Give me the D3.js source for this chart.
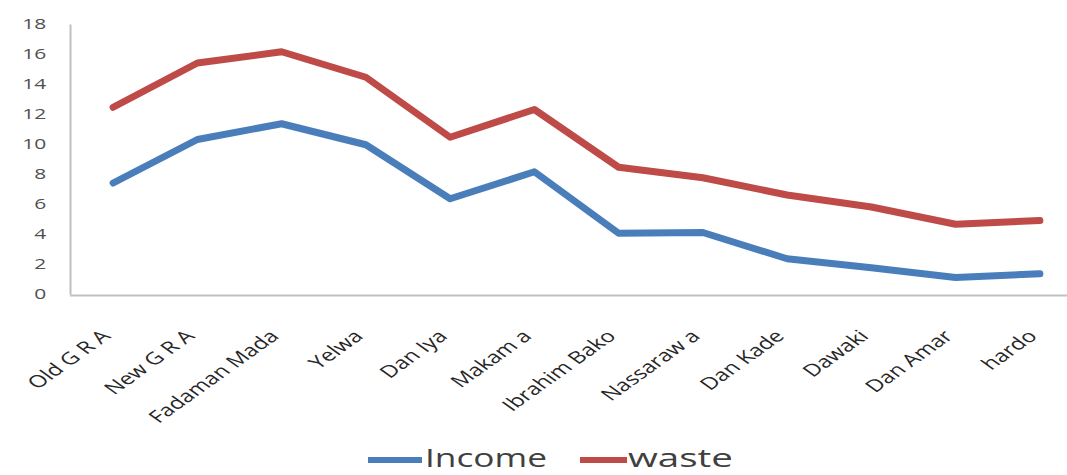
<!DOCTYPE html>
<html>
<head>
<meta charset="utf-8">
<script src="https://cdn.jsdelivr.net/npm/d3@7"></script>
<style>
  body { margin: 0; background: #fff; }
  text { font-family: "Open Sans", sans-serif; }
</style>
</head>
<body>
<div id="chart"></div>
<script>
const categories = ["Old G R A", "New G R A", "Fadaman Mada", "Yelwa", "Dan Iya", "Makam a",
  "Ibrahim Bako", "Nassaraw a", "Dan Kade", "Dawaki", "Dan Amar", "hardo"];
const income = [7.4, 10.3, 11.35, 9.95, 6.35, 8.15, 4.05, 4.1, 2.35, 1.75, 1.1, 1.35];
const waste = [12.45, 15.4, 16.15, 14.45, 10.45, 12.3, 8.45, 7.75, 6.6, 5.8, 4.65, 4.9];
const yTicks = [0, 2, 4, 6, 8, 10, 12, 14, 16, 18];
const seriesNames = ["Income", "waste"];

const W = 1067, H = 475;
const colors = { Income: "#4a7ebb", waste: "#be4b48" };

const svg = d3.select("#chart").append("svg")
  .attr("width", W)
  .attr("height", H);

// plot area runs a bit past the right edge, like the cropped original
const x = d3.scalePoint()
  .domain(categories)
  .range([71, 1082])
  .padding(0.5);

const y = d3.scaleLinear()
  .domain([0, 18])
  .range([294, 24]);

// y axis
const yAxis = d3.axisLeft(y)
  .tickValues(yTicks)
  .tickSize(0)
  .tickSizeOuter(0)
  .tickPadding(17);

const gy = svg.append("g")
  .attr("transform", "translate(70,0)")
  .call(yAxis);
gy.select(".domain").attr("stroke", "#c0c0c0").attr("stroke-width", 2);
gy.selectAll("text")
  .attr("font-size", 15)
  .attr("fill", "#505050")
  .attr("transform", "scale(1.4,1)");

// x axis
const xAxis = d3.axisBottom(x)
  .tickSize(0)
  .tickSizeOuter(0);

const gx = svg.append("g")
  .attr("transform", "translate(0,295)")
  .call(xAxis);
gx.select(".domain").attr("stroke", "#c0c0c0").attr("stroke-width", 2)
  .attr("d", `M70,0.5H${W}`);
gx.selectAll("text")
  .attr("x", 0)
  .attr("y", 0)
  .attr("dy", "0.35em")
  .attr("font-size", 17)
  .attr("fill", "#262626")
  .attr("text-anchor", "end")
  .attr("transform", "translate(-8,38) scale(1.4,1) rotate(-45)");

// lines
const line = d3.line()
  .x((d, i) => x(categories[i]))
  .y(d => y(d));

svg.append("path")
  .datum(income)
  .attr("fill", "none")
  .attr("stroke", colors.Income)
  .attr("stroke-width", 7)
  .attr("stroke-linejoin", "round")
  .attr("stroke-linecap", "round")
  .attr("d", line);

svg.append("path")
  .datum(waste)
  .attr("fill", "none")
  .attr("stroke", colors.waste)
  .attr("stroke-width", 7)
  .attr("stroke-linejoin", "round")
  .attr("stroke-linecap", "round")
  .attr("d", line);

// legend
const legendItems = [
  { name: seriesNames[0], x0: 368, x1: 422, tx: 425, tw: 122 },
  { name: seriesNames[1], x0: 580, x1: 627, tx: 628, tw: 105 }
];
const legend = svg.append("g");
legend.selectAll("line")
  .data(legendItems)
  .enter().append("line")
  .attr("x1", d => d.x0)
  .attr("x2", d => d.x1)
  .attr("y1", 460)
  .attr("y2", 460)
  .attr("stroke", d => colors[d.name])
  .attr("stroke-width", 6);
legend.selectAll("text")
  .data(legendItems)
  .enter().append("text")
  .attr("x", d => d.tx)
  .attr("y", 467)
  .attr("font-size", 25)
  .attr("fill", "#404040")
  .attr("textLength", d => d.tw)
  .attr("lengthAdjust", "spacingAndGlyphs")
  .text(d => d.name);
</script>
</body>
</html>
